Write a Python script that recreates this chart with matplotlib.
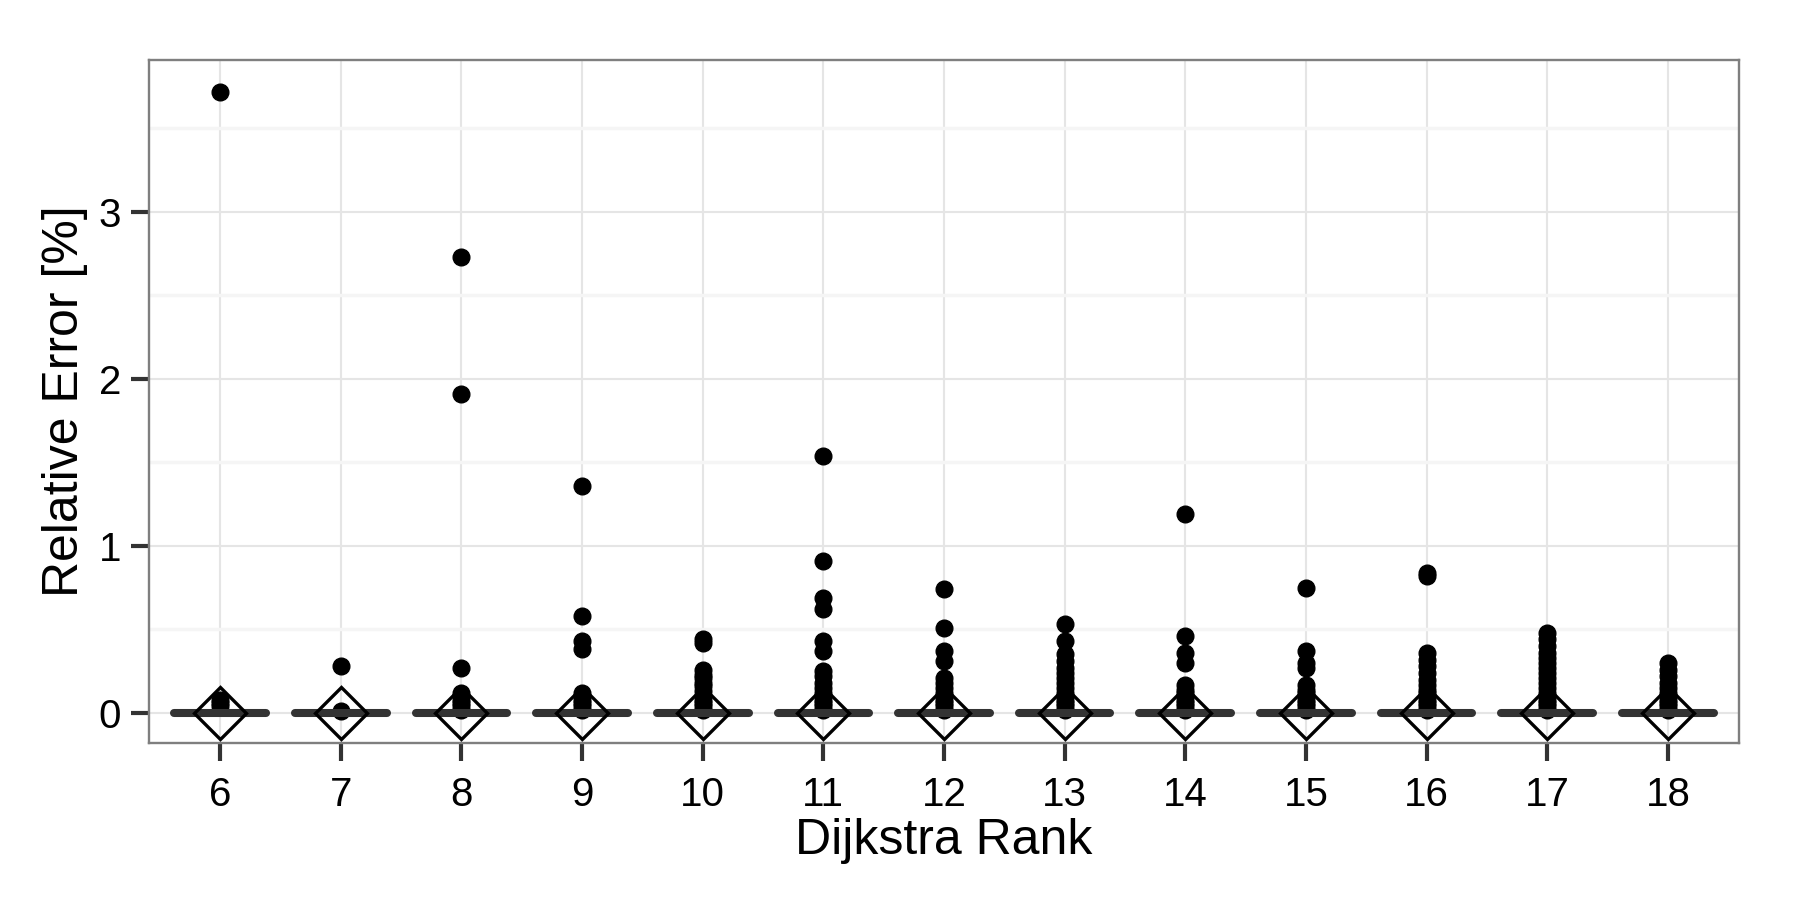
import numpy as np
import matplotlib
matplotlib.use('Agg')
import matplotlib.pyplot as plt

plt.rcParams['font.family'] = ['Liberation Sans', 'DejaVu Sans']

# Dijkstra ranks and the outlier values (relative error in %)
ranks = [6, 7, 8, 9, 10, 11, 12, 13, 14, 15, 16, 17, 18]
outliers = [
    [3.72, 0.08, 0.06, 0.04],
    [0.28, 0.01],
    [2.73, 1.91, 0.27, 0.12, 0.10, 0.08, 0.06, 0.04, 0.02],
    [1.36, 0.58, 0.43, 0.38, 0.12, 0.10, 0.08, 0.06, 0.04, 0.02],
    [0.44, 0.42, 0.26, 0.23, 0.21, 0.18, 0.16, 0.13, 0.10, 0.08, 0.06, 0.04, 0.02],
    [1.54, 0.91, 0.69, 0.62, 0.43, 0.37, 0.25, 0.22, 0.18, 0.15, 0.12, 0.10,
     0.08, 0.06, 0.04, 0.02],
    [0.74, 0.51, 0.37, 0.31, 0.21, 0.18, 0.15, 0.12, 0.10, 0.08, 0.06, 0.04, 0.02],
    [0.53, 0.43, 0.35, 0.31, 0.27, 0.24, 0.21, 0.18, 0.15, 0.12, 0.10, 0.08,
     0.06, 0.04, 0.02],
    [1.19, 0.46, 0.36, 0.30, 0.17, 0.14, 0.12, 0.10, 0.08, 0.06, 0.04, 0.02],
    [0.75, 0.37, 0.30, 0.27, 0.17, 0.14, 0.12, 0.10, 0.08, 0.06, 0.04, 0.02],
    [0.84, 0.82, 0.36, 0.32, 0.28, 0.24, 0.20, 0.17, 0.14, 0.12, 0.10, 0.08,
     0.06, 0.04, 0.02],
    [0.48, 0.44, 0.40, 0.36, 0.33, 0.30, 0.27, 0.24, 0.21, 0.18, 0.15, 0.12,
     0.10, 0.08, 0.06, 0.04, 0.02],
    [0.30, 0.26, 0.22, 0.18, 0.15, 0.12, 0.10, 0.08, 0.06, 0.04, 0.02],
]
# box stats are all collapsed at zero, mean is ~0 too
medians = [0.0] * 13
means = [0.0] * 13

stats = []
for i in range(len(ranks)):
    stats.append(dict(med=medians[i], q1=medians[i], q3=medians[i],
                      whislo=medians[i], whishi=medians[i],
                      mean=means[i], fliers=outliers[i]))

fig = plt.figure(figsize=(18, 9), dpi=100)
ax = fig.add_axes([149 / 1800, 1 - 743 / 900, 1590 / 1800, 683 / 900])

ax.bxp(stats, positions=ranks, widths=0.76, showmeans=True,
       boxprops=dict(color='#333333', lw=2),
       whiskerprops=dict(color='#333333', lw=2),
       capprops=dict(color='#333333', lw=0),
       medianprops=dict(color='#333333', lw=5.8, solid_capstyle='round', zorder=2.5),
       flierprops=dict(marker='o', markersize=12, markerfacecolor='black',
                       markeredgecolor='black', zorder=2),
       meanprops=dict(marker='D', markersize=26, markerfacecolor='none',
                      markeredgecolor='black', markeredgewidth=2.4, zorder=3))

ax.set_xlim(5.41, 18.59)
ax.set_ylim(-0.18, 3.91)
ax.set_xticks(ranks)
ax.set_xticklabels([str(r) for r in ranks])
ax.set_yticks([0, 1, 2, 3])
ax.set_yticks([0.5, 1.5, 2.5, 3.5], minor=True)

ax.grid(True, which='major', color='#E5E5E5', lw=1.5, zorder=0)
ax.grid(True, which='minor', axis='y', color='#F5F5F5', lw=2.5, zorder=0)
ax.set_axisbelow(True)

for s in ax.spines.values():
    s.set_color('#7F7F7F')
    s.set_linewidth(1.7)

ax.tick_params(which='major', length=13, width=3, color='#333333',
               labelsize=29, labelcolor='black')
ax.tick_params(axis='x', pad=11)
ax.tick_params(axis='y', pad=7)
ax.tick_params(which='minor', length=0)

ax.set_xlabel('Dijkstra Rank', fontsize=36, labelpad=3)
ax.set_ylabel('Relative Error [%]', fontsize=36, labelpad=8)

fig.savefig('out.png', dpi=100, facecolor='white')
